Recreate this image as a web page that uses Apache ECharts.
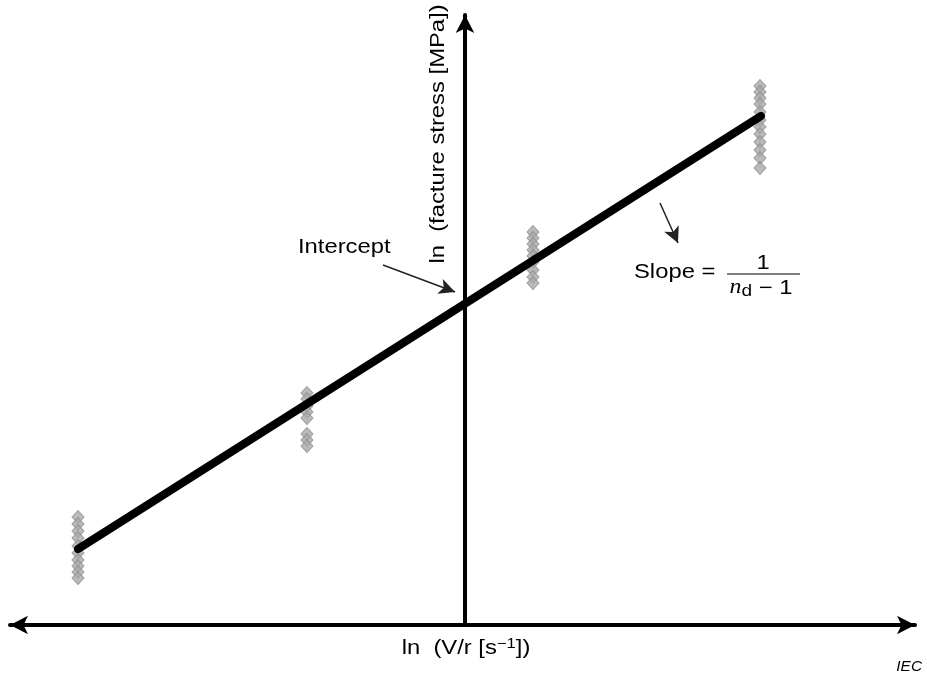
<!DOCTYPE html>
<html><head><meta charset="utf-8">
<script src="https://cdn.jsdelivr.net/npm/echarts@6/dist/echarts.min.js"></script>
<style>html,body{margin:0;padding:0;background:#fff}#c{width:927px;height:681px}</style>
</head><body><div id="c"></div>
<script>
// ln(V/r) positions of the four stressing-rate groups
const groupX = [-3.87, -1.58, 0.68, 2.95];
// ln(fracture stress) values measured at each stressing rate
const group1 = [1.08, 1.01, 0.94, 0.87, 0.79, 0.72, 0.65, 0.59, 0.53, 0.47];
const group2 = [2.32, 2.26, 2.19, 2.13, 2.07, 1.91, 1.85, 1.79];
const group3 = [3.93, 3.87, 3.81, 3.75, 3.69, 3.63, 3.55, 3.48, 3.42];
const group4 = [5.39, 5.33, 5.27, 5.21, 5.13, 5.05, 4.98, 4.91, 4.83, 4.75, 4.67, 4.57];
// fitted regression line end points
const fitX = [-3.87, 2.96];
const fitY = [0.76, 5.09];
// annotation arrows (data coordinates)
const interceptArrow = [[-0.82, 3.60], [-0.10, 3.33]];
const slopeArrow = [[1.95, 4.22], [2.13, 3.82]];

const groups = [group1, group2, group3, group4];
const scatterData = [];
groups.forEach((g, i) => g.forEach(v => scatterData.push([groupX[i], v])));

const font = '"Liberation Sans", Arial, sans-serif';
const SX = 1.19;
const chart = echarts.init(document.getElementById('c'));
chart.setOption({
  animation: false,
  backgroundColor: '#fff',
  grid: { left: 10, right: 12, top: 15, bottom: 56 },
  xAxis: {
    type: 'value', min: -4.55, max: 4.5,
    splitLine: { show: false }, axisTick: { show: false }, axisLabel: { show: false },
    axisLine: { show: true, onZero: false, symbol: ['arrow', 'arrow'], symbolSize: [14, 18],
      lineStyle: { color: '#000', width: 4 } }
  },
  yAxis: {
    type: 'value', min: 0, max: 6.1,
    splitLine: { show: false }, axisTick: { show: false }, axisLabel: { show: false },
    axisLine: { show: true, onZero: true, symbol: ['none', 'arrow'], symbolSize: [14, 18],
      lineStyle: { color: '#000', width: 4 } }
  },
  series: [
    {
      type: 'scatter', data: scatterData, symbol: 'diamond', symbolSize: [12, 13], z: 2,
      itemStyle: { color: '#a9a9a9', borderColor: '#8a8a8a', borderWidth: 1 }
    },
    {
      type: 'line', data: fitX.map((x, i) => [x, fitY[i]]), symbol: 'none', z: 3,
      lineStyle: { color: '#000', width: 8, cap: 'round' },
      markLine: {
        silent: true, symbol: ['none', 'arrow'], symbolSize: [12, 16], label: { show: false },
        lineStyle: { color: '#222', width: 1.5, type: 'solid' },
        data: [
          [{ coord: interceptArrow[0] }, { coord: interceptArrow[1] }],
          [{ coord: slopeArrow[0] }, { coord: slopeArrow[1] }]
        ]
      }
    }
  ],
  graphic: [
    { type: 'text', x: 298, y: 247, scaleX: SX, style: { text: 'Intercept', font: '20px ' + font, fill: '#000', verticalAlign: 'middle' } },
    { type: 'text', x: 438, y: 134, rotation: Math.PI / 2, scaleX: SX, style: {
        text: 'ln  (facture stress [MPa])', font: '20px ' + font, fill: '#000', align: 'center', verticalAlign: 'middle' } },
    { type: 'text', x: 466, y: 648, scaleX: SX, style: {
        text: '{t|ln  (V/r [s}{sup|−1}{t|])}', align: 'center', verticalAlign: 'middle',
        rich: { t: { font: '20px ' + font, fill: '#000' }, sup: { font: '14px ' + font, fill: '#000', verticalAlign: 'top', padding: [0, 0, 8, 0] } } } },
    { type: 'text', x: 634, y: 272, scaleX: SX, style: { text: 'Slope =', font: '20px ' + font, fill: '#000', verticalAlign: 'middle' } },
    { type: 'text', x: 763, y: 263, scaleX: SX, style: { text: '1', font: '20px ' + font, fill: '#000', align: 'center', verticalAlign: 'middle' } },
    { type: 'line', shape: { x1: 727, y1: 274, x2: 800, y2: 274 }, style: { stroke: '#000', lineWidth: 1.2 } },
    { type: 'text', x: 761, y: 288, scaleX: SX, style: {
        text: '{i|n}{s|d}{t| − 1}', align: 'center', verticalAlign: 'middle',
        rich: {
          i: { font: 'italic 20px "Liberation Serif", serif', fill: '#000' },
          s: { font: '16px ' + font, fill: '#000', padding: [8, 0, 0, 0] },
          t: { font: '20px ' + font, fill: '#000' }
        } } },
    { type: 'text', x: 922, y: 667, scaleX: 1.1, style: { text: 'IEC', font: 'italic 14px ' + font, fill: '#000', align: 'right', verticalAlign: 'middle' } }
  ]
});
</script></body></html>
